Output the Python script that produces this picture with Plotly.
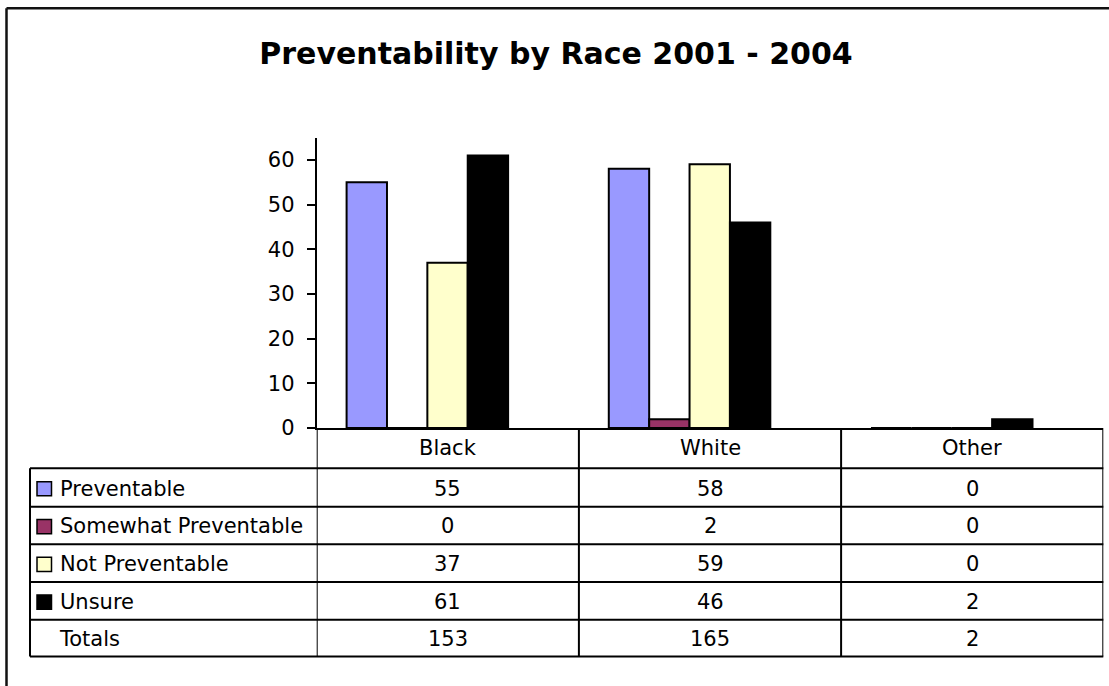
import plotly.graph_objects as go

# ---- data ----
categories = ["Black", "White", "Other"]
series_names = ["Preventable", "Somewhat Preventable", "Not Preventable", "Unsure"]
preventable = [55, 58, 0]
somewhat_preventable = [0, 2, 0]
not_preventable = [37, 59, 0]
unsure = [61, 46, 2]
y_ticks = [0, 10, 20, 30, 40, 50, 60]

series_values = [preventable, somewhat_preventable, not_preventable, unsure]
series_colors = ["#9999FF", "#993366", "#FFFFCC", "#000000"]
totals = [sum(v[i] for v in series_values) for i in range(len(categories))]

W, H = 1109, 686
FONT = "DejaVu Sans"


def fx(px):
    return px / W


def fy(py):
    return (H - py) / H


# plot area geometry (pixels from the top-left corner)
plot_left, plot_right = 316.7, 1103.3
plot_top, plot_bottom = 140.0, 435.7
# data table geometry (pixels)
table_left = 30.0
row_lines = [476.7, 515.7, 554.0, 592.3, 630.7, 668.3]

bar_w = 0.154
bar_start = -0.386

fig = go.Figure()
for i, (name, vals, col) in enumerate(zip(series_names, series_values, series_colors)):
    fig.add_trace(go.Bar(
        x=categories, y=vals, name=name,
        marker=dict(color=col, line=dict(color="#000000", width=2)),
        width=bar_w, offset=bar_start + i * bar_w,
        showlegend=False,
    ))

shapes = []
annotations = []
line_style = dict(color="#000000", width=2)

# horizontal table rules
for yl in row_lines:
    shapes.append(dict(type="line", xref="paper", yref="paper",
                       x0=fx(table_left), x1=fx(plot_right), y0=fy(yl), y1=fy(yl),
                       line=line_style))
# left edge of the label column
shapes.append(dict(type="line", xref="paper", yref="paper",
                   x0=fx(table_left), x1=fx(table_left),
                   y0=fy(row_lines[0]), y1=fy(row_lines[-1]), line=line_style))
# column dividers under the categories
for xe in [-0.5, 0.5, 1.5, 2.5]:
    shapes.append(dict(type="line", xref="x", yref="paper",
                       x0=xe, x1=xe, y0=fy(plot_bottom), y1=fy(row_lines[-1]),
                       line=line_style))

# category header labels
header_mid = (plot_bottom + row_lines[0]) / 2
for c in categories:
    annotations.append(dict(xref="x", yref="paper", x=c, y=fy(header_mid),
                            text=c, showarrow=False, xanchor="center", yanchor="middle",
                            font=dict(family=FONT, size=21, color="#000000")))

# series rows with legend keys
row_names = series_names + ["Totals"]
row_values = series_values + [totals]
for r, (rname, vals) in enumerate(zip(row_names, row_values)):
    mid = (row_lines[r] + row_lines[r + 1]) / 2
    if r < len(series_names):
        shapes.append(dict(type="rect", xref="paper", yref="paper",
                           x0=fx(37), x1=fx(51.5), y0=fy(mid + 8.5), y1=fy(mid - 6),
                           fillcolor=series_colors[r],
                           line=dict(color="#000000", width=1.5)))
        label_x = 58
    else:
        label_x = 57
    annotations.append(dict(xref="paper", yref="paper", x=fx(label_x), y=fy(mid + 1),
                            text=rname, showarrow=False, xanchor="left", yanchor="middle",
                            font=dict(family=FONT, size=21, color="#000000")))
    for c, v in zip(categories, vals):
        annotations.append(dict(xref="x", yref="paper", x=c, y=fy(mid + 1),
                                text=str(v), showarrow=False, xanchor="center",
                                yanchor="middle",
                                font=dict(family=FONT, size=21, color="#000000")))

# outer chart frame (top and left edges)
frame = dict(color="#111111", width=2.5)
shapes.append(dict(type="line", xref="paper", yref="paper",
                   x0=fx(6.5), x1=1.02, y0=fy(8.5), y1=fy(8.5), line=frame))
shapes.append(dict(type="line", xref="paper", yref="paper",
                   x0=fx(6.5), x1=fx(6.5), y0=fy(8.5), y1=-0.05, line=frame))

fig.update_layout(
    width=W, height=H,
    margin=dict(l=0, r=0, t=0, b=0),
    paper_bgcolor="#FFFFFF", plot_bgcolor="#FFFFFF",
    barmode="overlay",
    title=dict(text="Preventability by Race 2001 - 2004",
               x=fx(556), y=fy(54), xref="paper", yref="paper",
               xanchor="center", yanchor="middle",
               font=dict(family=FONT, size=30, color="#000000", weight="bold")),
    xaxis=dict(domain=[fx(plot_left), fx(plot_right)], range=[-0.5, 2.5],
               showline=True, linecolor="#000000", linewidth=2,
               showticklabels=False, ticks="", showgrid=False, zeroline=False,
               fixedrange=True),
    yaxis=dict(domain=[fy(plot_bottom), fy(plot_top)], range=[0, 65],
               tickvals=y_ticks, ticks="outside", ticklen=8, tickwidth=2,
               tickcolor="#000000", showline=True, linecolor="#000000", linewidth=2,
               showgrid=False, zeroline=False, ticklabelstandoff=8,
               tickfont=dict(family=FONT, size=21, color="#000000"),
               fixedrange=True),
    shapes=shapes,
    annotations=annotations,
)

fig.write_html("out.html")
